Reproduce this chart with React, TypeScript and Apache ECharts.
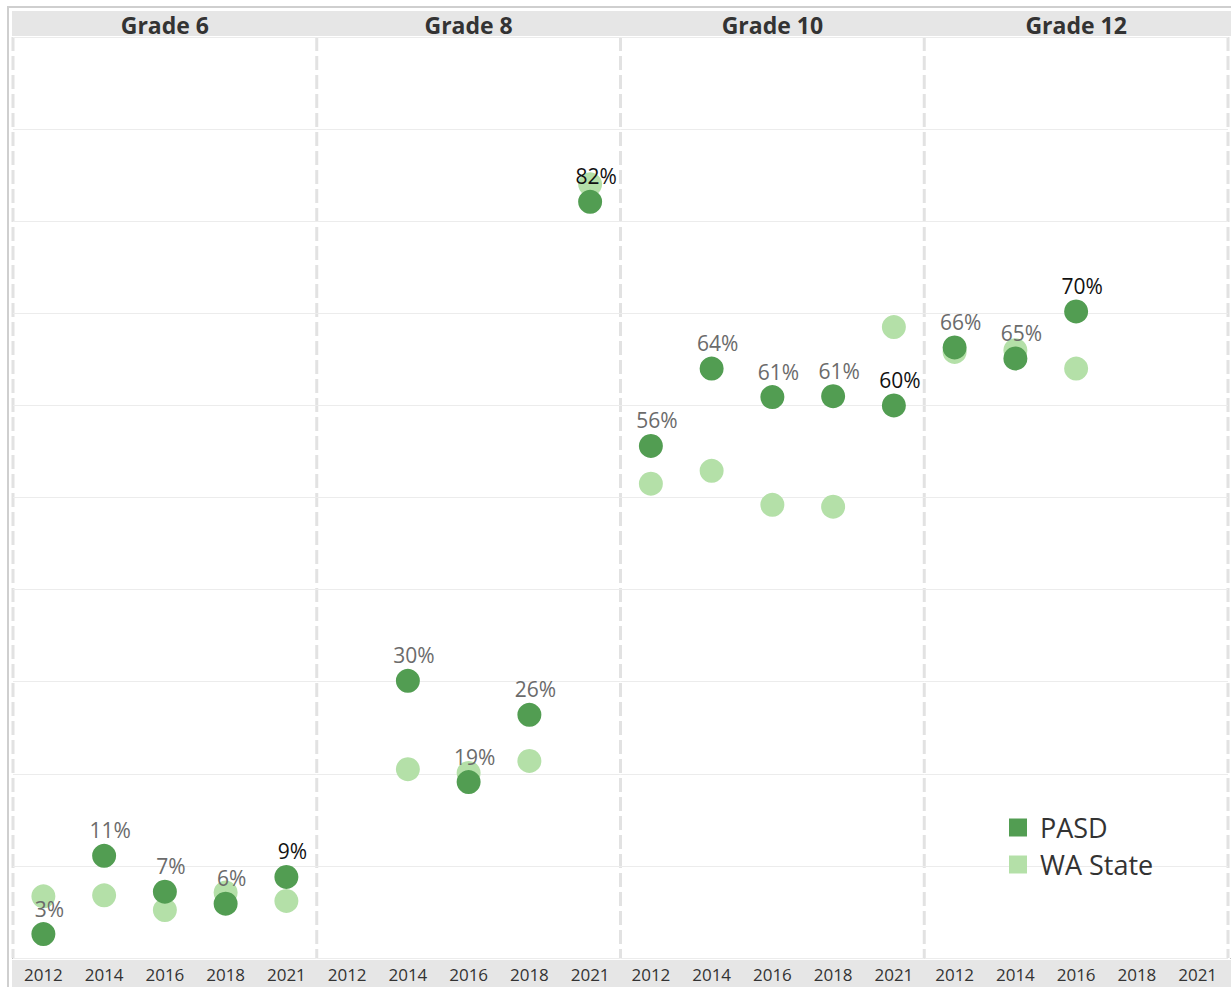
import React, { useEffect, useRef } from "react";
import * as echarts from "echarts";

const GRADES = ["Grade 6", "Grade 8", "Grade 10", "Grade 12"];
const YEARS = ["2012", "2014", "2016", "2018", "2021"];

const PASD_G6 = [2.6, 11.1, 7.2, 5.9, 8.8];
const WA_G6 = [6.7, 6.8, 5.2, 7.1, 6.2];
const PASD_G8 = [null, 30.1, 19.1, 26.4, 82.1];
const WA_G8 = [null, 20.5, 20.1, 21.4, 84.0];
const PASD_G10 = [55.6, 64.0, 60.9, 61.0, 60.0];
const WA_G10 = [51.5, 52.9, 49.2, 49.0, 68.5];
const PASD_G12 = [66.3, 65.1, 70.2, null, null];
const WA_G12 = [65.8, 66.0, 64.0, null, null];

const PASD = [PASD_G6, PASD_G8, PASD_G10, PASD_G12];
const WA = [WA_G6, WA_G8, WA_G10, WA_G12];

const Y_MIN = 0;
const Y_MAX = 100;
const Y_STEP = 10;

const DARK = "#529d52";
const LIGHT = "#b4e0a8";
const FONT = "'Open Sans', 'Noto Sans', sans-serif";

const PANEL_LEFT = 13;
const PANEL_W = 303.75;
const TOP = 37;
const BOTTOM = 958;

function lastIndex(arr: (number | null)[]) {
  let li = -1;
  arr.forEach((v, i) => {
    if (v !== null) li = i;
  });
  return li;
}

export default function App() {
  const ref = useRef<HTMLDivElement>(null);

  useEffect(() => {
    if (!ref.current) return;
    const chart = echarts.init(ref.current, null, { renderer: "svg" });

    const grids = GRADES.map((_, i) => ({
      left: PANEL_LEFT + i * PANEL_W,
      width: PANEL_W,
      top: TOP,
      height: BOTTOM - TOP,
      containLabel: false,
    }));

    const xAxes = GRADES.map((_, i) => ({
      type: "category",
      gridIndex: i,
      data: YEARS,
      boundaryGap: true,
      axisLine: { show: false },
      axisTick: { show: false },
      axisLabel: { fontSize: 17, color: "#333", margin: 8, fontFamily: FONT, interval: 0 },
      splitLine: { show: false },
    }));

    const yAxes = GRADES.map((_, i) => ({
      type: "value",
      gridIndex: i,
      min: Y_MIN,
      max: Y_MAX,
      interval: Y_STEP,
      axisLine: { show: false },
      axisTick: { show: false },
      axisLabel: { show: false },
      splitLine: { show: true, lineStyle: { color: "#ececec", width: 1 } },
    }));

    const series: any[] = [];
    GRADES.forEach((_, i) => {
      series.push({
        type: "scatter",
        name: "WA State",
        xAxisIndex: i,
        yAxisIndex: i,
        symbolSize: 24,
        itemStyle: { color: LIGHT, opacity: 1 },
        data: WA[i].map((v, j) => (v === null ? null : [YEARS[j], v])).filter((d) => d !== null),
        z: 2,
      });
    });
    GRADES.forEach((_, i) => {
      const li = lastIndex(PASD[i]);
      series.push({
        type: "scatter",
        name: "PASD",
        xAxisIndex: i,
        yAxisIndex: i,
        symbolSize: 24,
        itemStyle: { color: DARK, opacity: 1 },
        data: PASD[i]
          .map((v, j) =>
            v === null
              ? null
              : {
                  value: [YEARS[j], v],
                  label: { color: j === li ? "#111" : "#6b6b6b" },
                }
          )
          .filter((d) => d !== null),
        label: {
          show: true,
          position: "top",
          distance: 3,
          offset: [6, 0],
          fontSize: 21,
          fontFamily: FONT,
          color: "#6b6b6b",
          formatter: (p: any) => Math.round(p.value[1]) + "%",
        },
        z: 3,
      });
    });

    const graphics: any[] = [];
    graphics.push({
      type: "polyline",
      shape: { points: [[8, 987], [8, 7], [1231, 7]] },
      style: { stroke: "#cfcfcf", lineWidth: 2, fill: null },
      z: -10,
      silent: true,
    });
    graphics.push({
      type: "rect",
      shape: { x: 12, y: 11, width: 1219, height: 25 },
      style: { fill: "#e6e6e6" },
      z: -10,
      silent: true,
    });
    graphics.push({
      type: "rect",
      shape: { x: 12, y: 960, width: 1219, height: 27 },
      style: { fill: "#e6e6e6" },
      z: -10,
      silent: true,
    });
    graphics.push({
      type: "line",
      shape: { x1: 12, y1: 958.5, x2: 1231, y2: 958.5 },
      style: { stroke: "#c4c4c4", lineWidth: 1, lineDash: [1, 2] },
      z: -9,
      silent: true,
    });
    for (let i = 0; i <= GRADES.length; i++) {
      const x = PANEL_LEFT + i * PANEL_W;
      graphics.push({
        type: "line",
        shape: { x1: x, y1: TOP, x2: x, y2: BOTTOM },
        style: { stroke: "#e2e2e2", lineWidth: 3, lineDash: [14, 5] },
        z: -5,
        silent: true,
      });
    }
    GRADES.forEach((g, i) => {
      graphics.push({
        type: "text",
        x: PANEL_LEFT + i * PANEL_W + PANEL_W / 2,
        y: 25,
        style: {
          text: g,
          fill: "#333",
          font: `bold 23px ${FONT}`,
          textAlign: "center",
          textVerticalAlign: "middle",
        },
        z: 5,
        silent: true,
      });
    });

    chart.setOption({
      animation: false,
      backgroundColor: "#fff",
      grid: grids,
      xAxis: xAxes,
      yAxis: yAxes,
      series,
      legend: {
        data: ["PASD", "WA State"],
        orient: "vertical",
        left: 1004,
        top: 809,
        icon: "rect",
        itemWidth: 18,
        itemHeight: 18,
        itemGap: 10,
        textStyle: { fontSize: 27, color: "#333", fontFamily: FONT, padding: [0, 0, 0, 8] },
        selectedMode: false,
      },
      graphic: graphics,
    });

    return () => chart.dispose();
  }, []);

  return (
    <div
      ref={ref}
      style={{ position: "fixed", left: 0, top: 0, width: 1231, height: 987 }}
    />
  );
}
